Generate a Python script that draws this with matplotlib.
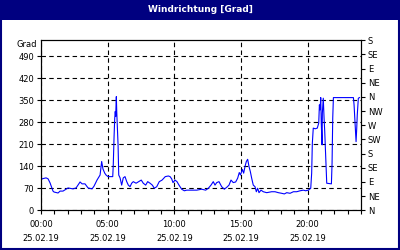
import matplotlib
matplotlib.use("Agg")
import matplotlib.pyplot as plt
from matplotlib.patches import Rectangle

# Wind direction readings, hours since 00:00 on 25.02.19
hours = [0.00, 0.08, 0.38, 0.53, 0.68, 0.90, 0.98, 1.28, 1.43, 1.65, 2.03, 2.40, 2.63,
         2.93, 3.08, 3.30, 3.53, 3.83, 3.98, 4.20, 4.43, 4.55, 4.65, 4.78, 4.88, 5.03,
         5.38, 5.42, 5.48, 5.53, 5.57, 5.60, 5.65, 5.68, 5.72, 5.78, 5.83, 5.93, 6.05,
         6.17, 6.30, 6.43, 6.55, 6.68, 6.80, 6.92, 7.13, 7.33, 7.52, 7.67, 7.85, 8.00,
         8.18, 8.35, 8.50, 8.68, 8.87, 9.08, 9.32, 9.55, 9.68, 9.80, 9.90, 10.05, 10.20,
         10.35, 10.55, 10.75, 10.93, 11.30, 11.68, 12.05, 12.35, 12.55, 12.75, 12.92,
         13.05, 13.18, 13.35, 13.55, 13.75, 13.93, 14.10, 14.25, 14.42, 14.60, 14.75,
         14.87, 14.96, 15.10, 15.20, 15.30, 15.40, 15.50, 15.60, 15.70, 15.80, 15.92,
         16.05, 16.15, 16.25, 16.35, 16.50, 16.67, 16.93, 17.30, 17.55, 17.80, 18.05,
         18.25, 18.43, 18.68, 18.93, 19.18, 19.43, 19.68, 19.85, 20.05, 20.23, 20.30,
         20.35, 20.42, 20.57, 20.72, 20.83, 20.88, 20.93, 20.98, 21.02, 21.08, 21.10,
         21.17, 21.23, 21.28, 21.33, 21.38, 21.43, 21.78, 21.83, 21.88, 21.93, 23.43,
         23.48, 23.57, 23.63, 23.68, 23.72, 23.80, 23.89]
direction = [95, 100, 103, 100, 87, 61, 58, 55, 61, 61, 71, 68, 71,
             90, 84, 84, 71, 68, 77, 96, 112, 155, 131, 118, 112, 107,
             107, 144, 234, 293, 314, 298, 361, 314, 271, 208, 112, 103, 80,
             103, 107, 91, 80, 75, 86, 91, 86, 91, 96, 86, 80, 91,
             86, 80, 70, 75, 91, 96, 107, 109, 107, 100, 88, 96, 91,
             80, 67, 62, 64, 64, 64, 67, 64, 70, 80, 91,
             80, 88, 91, 75, 67, 73, 80, 96, 88, 90, 102,
             120, 112, 130, 118, 139, 155, 162, 139, 123, 102, 80,
             75, 59, 70, 56, 64, 59, 56, 59, 59, 56, 54,
             52, 56, 54, 59, 59, 62, 64, 62, 64, 70, 118,
             213, 261, 259, 261, 277, 335, 319, 358, 277, 208, 308,
             356, 293, 250, 197, 139, 86, 84, 150, 293, 358, 358,
             335, 261, 218, 261, 303, 356, 358]

left_ticks = [0, 70, 140, 210, 280, 350, 420, 490]
right_ticks = [0, 45, 90, 135, 180, 225, 270, 315, 360, 405, 450, 495, 540]
right_labels = ["N", "NE", "E", "SE", "S", "SW", "W", "NW", "N", "NE", "E", "SE", "S"]
time_ticks = [0, 5, 10, 15, 20]
time_labels = ["00:00\n25.02.19", "05:00\n25.02.19", "10:00\n25.02.19",
               "15:00\n25.02.19", "20:00\n25.02.19"]

navy = "#000080"
plt.rcParams["font.family"] = "DejaVu Sans"

fig = plt.figure(figsize=(4, 2.5), dpi=100)
fig.patch.set_facecolor("white")

# title bar and frame
fig.patches.append(Rectangle((0, 230 / 250), 1, 20 / 250, transform=fig.transFigure,
                             facecolor=navy, edgecolor="none", zorder=0))
fig.patches.append(Rectangle((0.0025, 0.004), 0.995, 0.992, transform=fig.transFigure,
                             facecolor="none", edgecolor=navy, linewidth=1.5, zorder=5))
fig.text(0.5, 240 / 250, "Windrichtung [Grad]", color="white", fontsize=6.5,
         fontweight="bold", ha="center", va="center")

ax = fig.add_axes([41 / 400, 1 - 210.3 / 250, 320 / 400, 170 / 250])
ax.plot(hours, direction, color="#0000ff", linewidth=0.8, zorder=3)

ax.set_xlim(0, 24)
ax.set_ylim(0, 540)
ax.set_xticks(time_ticks)
ax.set_xticklabels(time_labels, fontsize=6, linespacing=1.75)
ax.set_xticks(range(25), minor=True)
ax.set_yticks(left_ticks)
ax.set_yticklabels([str(v) for v in left_ticks], fontsize=6)
ax.tick_params(axis="both", which="both", direction="out", length=3, width=0.8,
               colors="black", pad=2)
ax.tick_params(axis="x", which="major", pad=4)

ax.grid(True, color="black", linestyle=(0, (4, 3)), linewidth=0.8)
for s in ax.spines.values():
    s.set_linewidth(0.8)

ax2 = ax.twinx()
ax2.set_ylim(0, 540)
ax2.set_yticks(right_ticks)
ax2.set_yticklabels(right_labels, fontsize=6)
ax2.tick_params(axis="y", direction="out", length=3, width=0.8, pad=2)

fig.text(37 / 400, 1 - 45 / 250, "Grad", fontsize=6, ha="right", va="center")

fig.savefig("out.png", dpi=100)
